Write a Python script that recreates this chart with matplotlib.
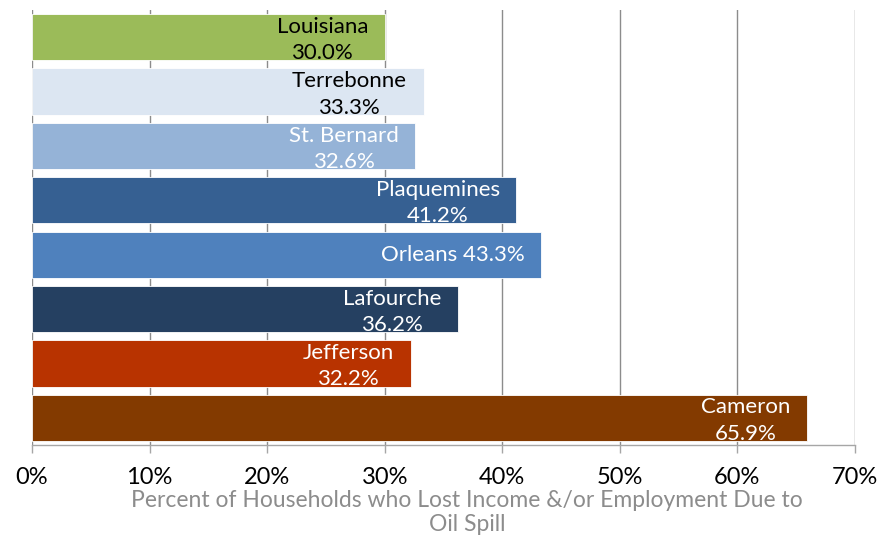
import matplotlib
matplotlib.use("Agg")
import matplotlib.pyplot as plt

categories = ["Louisiana", "Terrebonne", "St. Bernard", "Plaquemines",
              "Orleans", "Lafourche", "Jefferson", "Cameron"]
values = [30.0, 33.3, 32.6, 41.2, 43.3, 36.2, 32.2, 65.9]
colors = ["#9BBB59", "#DCE6F2", "#95B3D7", "#366092",
          "#4F81BD", "#254061", "#B83300", "#833A00"]
label_colors = ["black", "black", "white", "white",
                "white", "white", "white", "white"]
single_line = ["Orleans"]
xticks = [0, 10, 20, 30, 40, 50, 60, 70]
xlabel = "Percent of Households who Lost Income &/or Employment Due to\nOil Spill"

plt.rcParams['font.family'] = ['Lato', 'DejaVu Sans']

fig = plt.figure(figsize=(8.85, 5.38), dpi=100)
ax = fig.add_axes([32/885, 1-445/538, 823/885, 435/538])

ypos = list(range(len(categories)))
ax.barh(ypos, values, height=0.85, color=colors, edgecolor="white",
        linewidth=0.6, zorder=3)
ax.set_ylim(len(categories) - 0.5, -0.5)
ax.set_xlim(0, 70)

for y, v, name, lc in zip(ypos, values, categories, label_colors):
    if name in single_line:
        txt = f"{name} {v:.1f}%"
        dy = 0
    else:
        txt = f"{name}\n{v:.1f}%"
        dy = -2
    ax.annotate(txt, xy=(v, y), xytext=(-12, dy), textcoords="offset points",
                ha="right", va="center", multialignment="center",
                color=lc, fontsize=16, linespacing=1.4, zorder=4,
                annotation_clip=False)

ax.set_xticks(xticks)
ax.set_xticklabels([f"{t}%" for t in xticks], fontsize=17, color="black")
ax.set_yticks([])
ax.grid(axis="x", color="#8C8C8C", linewidth=1, zorder=0)
ax.set_axisbelow(True)
for s in ["top", "right", "left"]:
    ax.spines[s].set_visible(False)
ax.spines["bottom"].set_color("#A6A6A6")
ax.spines["bottom"].set_linewidth(1)
ax.tick_params(axis="x", length=6, color="#A6A6A6", width=1, pad=10)
ax.set_xlabel(xlabel, fontsize=16.5, color="#8C8C8C", labelpad=0,
              linespacing=1.2)
ax.xaxis.set_label_coords((467 - 32) / 823, -0.103, transform=ax.transAxes)
ax.xaxis.label.set_va("top")

fig.savefig("out.png", dpi=100)
